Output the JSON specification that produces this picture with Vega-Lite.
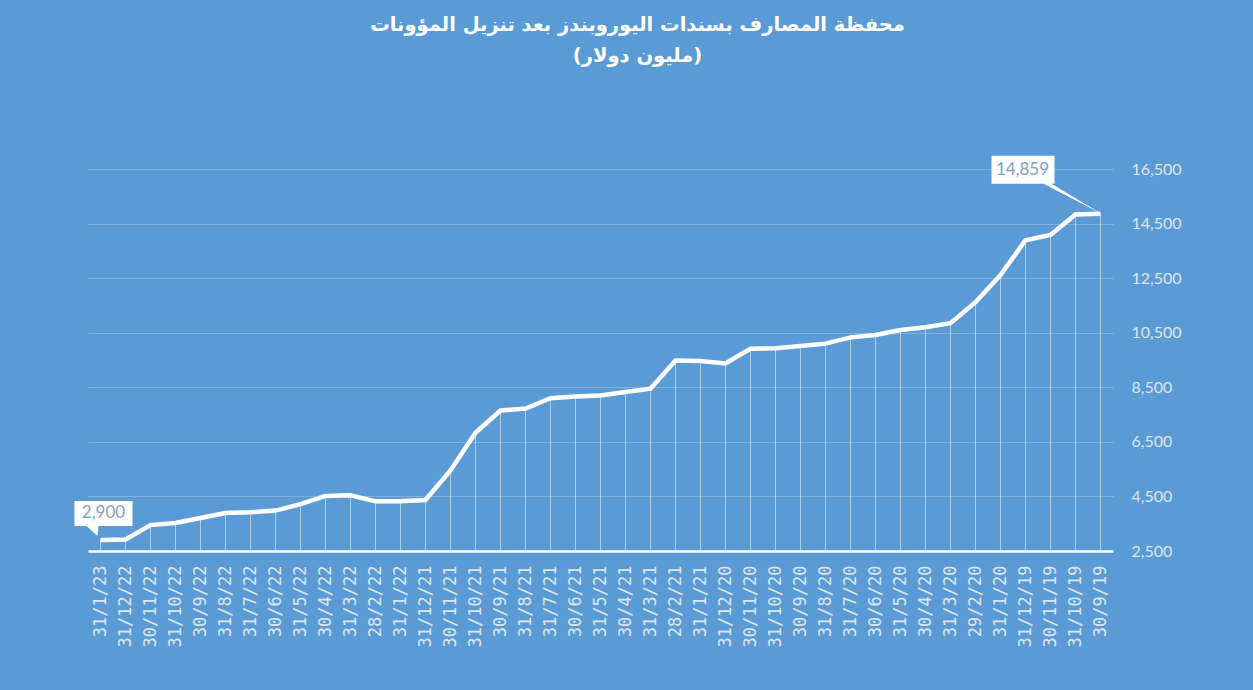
{
  "$schema": "https://vega.github.io/schema/vega-lite/v6.json",
  "autosize": {"type": "none"},
  "padding": {"left": 88, "top": 169, "right": 140, "bottom": 139},
  "width": 1025,
  "height": 382,
  "background": "#5B9BD5",
  "title": {
    "text": ["محفظة المصارف بسندات اليوروبندز بعد تنزيل المؤونات", "(مليون دولار)"],
    "anchor": "middle",
    "frame": "group",
    "dx": 37,
    "offset": 89,
    "font": "DejaVu Sans",
    "fontWeight": "bold",
    "fontSize": 19.5,
    "lineHeight": 31,
    "color": "#FFFFFF"
  },
  "config": {
    "view": {"stroke": null},
    "font": "Lato"
  },
  "data": {
    "values": [
      {"date": "31/1/23", "value": 2900},
      {"date": "31/12/22", "value": 2920},
      {"date": "30/11/22", "value": 3450},
      {"date": "31/10/22", "value": 3530},
      {"date": "30/9/22", "value": 3710},
      {"date": "31/8/22", "value": 3890},
      {"date": "31/7/22", "value": 3920},
      {"date": "30/6/22", "value": 3980},
      {"date": "31/5/22", "value": 4220},
      {"date": "30/4/22", "value": 4520},
      {"date": "31/3/22", "value": 4540},
      {"date": "28/2/22", "value": 4320},
      {"date": "31/1/22", "value": 4320},
      {"date": "31/12/21", "value": 4370},
      {"date": "30/11/21", "value": 5450},
      {"date": "31/10/21", "value": 6830},
      {"date": "30/9/21", "value": 7650},
      {"date": "31/8/21", "value": 7720},
      {"date": "31/7/21", "value": 8100},
      {"date": "30/6/21", "value": 8160},
      {"date": "31/5/21", "value": 8200},
      {"date": "30/4/21", "value": 8330},
      {"date": "31/3/21", "value": 8450},
      {"date": "28/2/21", "value": 9480},
      {"date": "31/1/21", "value": 9460},
      {"date": "31/12/20", "value": 9370},
      {"date": "30/11/20", "value": 9910},
      {"date": "31/10/20", "value": 9935},
      {"date": "30/9/20", "value": 10010},
      {"date": "31/8/20", "value": 10100},
      {"date": "31/7/20", "value": 10330},
      {"date": "30/6/20", "value": 10420},
      {"date": "31/5/20", "value": 10600},
      {"date": "30/4/20", "value": 10700},
      {"date": "31/3/20", "value": 10850},
      {"date": "29/2/20", "value": 11620},
      {"date": "31/1/20", "value": 12610},
      {"date": "31/12/19", "value": 13890},
      {"date": "30/11/19", "value": 14080},
      {"date": "31/10/19", "value": 14830},
      {"date": "30/9/19", "value": 14859}
    ]
  },
  "encoding": {
    "x": {
      "field": "date",
      "type": "ordinal",
      "sort": null,
      "title": null,
      "axis": {
        "labelAngle": -90,
        "labelFont": "DejaVu Sans Mono",
        "labelFontSize": 17,
        "labelColor": "#DCE6F2",
        "labelPadding": 14,
        "ticks": false,
        "domain": true,
        "domainColor": "#FFFFFF",
        "domainWidth": 2.5,
        "grid": false
      }
    },
    "y": {
      "field": "value",
      "type": "quantitative",
      "title": null,
      "scale": {"domain": [2500, 16500], "nice": false, "zero": false},
      "axis": {
        "orient": "right",
        "values": [2500, 4500, 6500, 8500, 10500, 12500, 14500, 16500],
        "format": ",.0f",
        "labelFont": "Lato",
        "labelFontSize": 16,
        "labelColor": "#DDE6F0",
        "labelPadding": 18,
        "ticks": false,
        "domain": false,
        "grid": true,
        "gridColor": "#FFFFFF",
        "gridOpacity": 0.22,
        "gridWidth": 1
      }
    }
  },
  "layer": [
    {
      "mark": {"type": "rule", "color": "#FFFFFF", "opacity": 0.5, "strokeWidth": 1},
      "encoding": {"y2": {"datum": 2500}}
    },
    {
      "mark": {"type": "line", "color": "#FFFFFF", "strokeWidth": 4.5}
    },
    {
      "transform": [{"filter": "datum.date === '31/1/23'"}],
      "mark": {
        "type": "point",
        "shape": "M-2.6,-3.9 L3.2,-3.9 L3.2,-1.4 L-0.2,-1.4 L-0.3,-0.4 L-1.4,-1.4 L-2.6,-1.4 Z",
        "size": 400,
        "filled": true,
        "fill": "#FFFFFF",
        "opacity": 1,
        "strokeWidth": 0
      }
    },
    {
      "transform": [{"filter": "datum.date === '31/1/23'"}],
      "mark": {"type": "text", "dx": 3, "dy": -27, "fontSize": 17, "font": "Lato", "color": "#7F9FC6"},
      "encoding": {"text": {"field": "value", "type": "quantitative", "format": ","}}
    },
    {
      "transform": [{"filter": "datum.date === '30/9/19'"}],
      "mark": {
        "type": "point",
        "shape": "M-10.9,-5.8 L-4.6,-5.8 L-4.6,-3.0 L-4.9,-3.0 L0,-0.05 L-5.7,-3.0 L-10.9,-3.0 Z",
        "size": 400,
        "filled": true,
        "fill": "#FFFFFF",
        "opacity": 1,
        "strokeWidth": 0
      }
    },
    {
      "transform": [{"filter": "datum.date === '30/9/19'"}],
      "mark": {"type": "text", "dx": -78, "dy": -44, "fontSize": 17, "font": "Lato", "color": "#7F9FC6"},
      "encoding": {"text": {"field": "value", "type": "quantitative", "format": ","}}
    }
  ]
}
